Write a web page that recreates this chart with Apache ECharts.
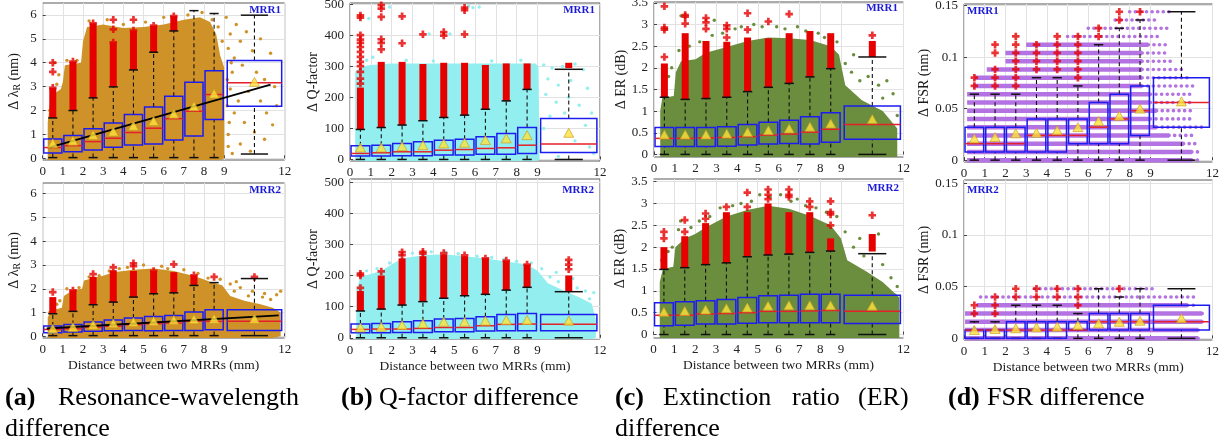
<!DOCTYPE html>
<html>
<head>
<meta charset="utf-8">
<script src="https://cdn.jsdelivr.net/npm/echarts@6/dist/echarts.min.js"></script>
<style>html,body{margin:0;padding:0;background:#fff}#c{width:1231px;height:446px}</style>
</head>
<body>
<div id="c"></div>
<script>
// ---- shared bins and tick labels ----
const binCenters = [0.5, 1.5, 2.5, 3.5, 4.5, 5.5, 6.5, 7.5, 8.5, 10.5];
const binHalfWidths = [0.45, 0.45, 0.45, 0.45, 0.45, 0.45, 0.45, 0.45, 0.45, 1.35];
const xTicks = [0, 1, 2, 3, 4, 5, 6, 7, 8, 9, 12];
const ticksA = [0, 1, 2, 3, 4, 5, 6];
const ticksB = [0, 100, 200, 300, 400, 500];
const ticksC = [0, 0.5, 1, 1.5, 2, 2.5, 3, 3.5];
const ticksD = [0, 0.05, 0.1, 0.15];

// ---- (a) resonance-wavelength difference, nm ----
// box statistics per bin: [lower whisker, Q1, median, Q3, upper whisker]
const statsA1 = [[0.03,0.22,0.45,0.81,1.69],[0.03,0.28,0.53,0.96,2.0],[0.03,0.35,0.70,1.24,2.53],[0.03,0.46,0.84,1.48,2.99],[0.03,0.56,1.08,1.83,3.70],[0.03,0.60,1.26,2.15,4.44],[0.03,0.77,1.66,2.60,5.33],[0.03,0.93,1.97,3.18,6.18],[0.03,1.63,2.67,3.67,6.06],[0.18,2.18,3.16,4.09,5.99]];
const meanA1 = [0.63, 0.74, 0.98, 1.12, 1.36, 1.56, 1.87, 2.18, 2.71, 3.20];
const runsA1 = [[0.5,1.69,2.95],[1.5,2.0,4.05],[2.5,2.53,5.65],[3.5,2.99,4.85],[4.5,3.7,5.35],[5.5,4.44,5.55],[6.5,5.33,5.95]];
const outA1 = [[0.5,2.95],[0.5,3.62],[0.5,4.0],[1.5,4.05],[2.5,5.65],[3.5,4.85],[3.5,5.4],[3.5,5.8],[4.5,5.35],[4.5,5.8],[5.5,5.55],[6.5,5.95]];
const cloudA1 = [[0.25,0],[0.25,1.5],[0.4,2.6],[0.9,2.9],[1.0,3.2],[1.1,3.9],[1.9,4.0],[2.0,4.9],[2.2,5.5],[3.0,5.6],[4.0,5.45],[5.0,5.5],[6.0,5.6],[7.0,5.8],[7.8,5.9],[8.3,5.7],[8.6,5.2],[8.8,4.3],[9.0,3.8],[9.0,0]];
const dotsA1 = [[9.1,5.9],[9.3,5.2],[9.6,5.6],[9.2,4.6],[9.5,4.2],[9.8,4.9],[10.1,5.3],[9.4,3.6],[9.9,3.9],[10.4,4.5],[10.8,5.0],[11.3,4.4],[9.3,2.9],[9.7,2.4],[10.2,2.8],[10.6,3.6],[11.0,3.3],[11.5,3.0],[9.5,1.9],[10.0,1.5],[10.5,1.1],[11.1,1.9],[11.6,2.2],[9.2,1.0],[9.8,0.6],[10.3,0.3],[11.0,0.8],[11.4,1.4],[9.4,0.2],[10.8,2.4],[9.15,3.3],[9.15,2.2],[9.25,1.5],[9.2,0.5],[9.35,4.0],[2.3,5.75],[3.2,5.8],[4.0,5.6],[5.1,5.7],[6.0,5.9],[7.2,6.0],[7.9,6.1],[8.4,5.8],[8.7,5.5],[8.9,4.9],[0.7,3.1],[0.8,3.5],[1.2,4.1],[1.7,4.1],[0.35,2.0],[0.6,4.0]];
const fitA1 = [[0.35,0.46],[11.3,3.08]];

const statsA2 = [[0.03,0.15,0.29,0.43,0.95],[0.03,0.18,0.32,0.50,1.05],[0.03,0.21,0.39,0.60,1.33],[0.03,0.24,0.43,0.69,1.44],[0.03,0.25,0.49,0.77,1.65],[0.03,0.24,0.53,0.83,1.79],[0.03,0.25,0.56,0.88,1.83],[0.03,0.25,0.64,1.02,2.14],[0.03,0.28,0.63,1.12,2.26],[0.03,0.25,0.63,1.12,2.43]];
const meanA2 = [0.32, 0.39, 0.49, 0.55, 0.60, 0.64, 0.69, 0.72, 0.74, 0.74];
const runsA2 = [[0.5,0.95,1.65],[1.5,1.05,1.93],[2.5,1.33,2.5],[3.5,1.44,2.78],[4.5,1.65,2.75],[5.5,1.79,2.75],[6.5,1.83,2.7],[7.5,2.14,2.57]];
const outA2 = [[0.5,1.86],[1.5,1.93],[2.5,2.62],[3.5,2.9],[4.5,2.95],[4.5,3.07],[5.5,2.75],[6.5,3.03],[7.5,2.57],[8.5,2.5],[10.5,2.5]];
const cloudA2 = [[0.25,0],[0.25,0.8],[0.45,1.1],[0.95,1.2],[1.05,1.7],[1.5,1.95],[1.95,2.0],[2.05,2.35],[2.5,2.45],[3.0,2.55],[3.5,2.7],[4.5,2.8],[5.5,2.85],[6.5,2.75],[7.2,2.6],[7.8,2.45],[8.3,2.3],[8.9,2.15],[9.3,1.7],[10.0,1.5],[10.8,1.35],[11.4,1.2],[11.8,1.0],[11.8,0]];
const dotsA2 = [[0.35,1.0],[0.7,1.35],[0.85,1.5],[1.2,2.0],[1.8,2.05],[2.3,2.5],[2.8,2.55],[3.3,2.75],[3.8,2.85],[4.2,2.9],[5.0,3.0],[5.9,2.95],[6.2,2.85],[7.0,2.8],[7.7,2.65],[8.2,2.45],[8.8,2.4],[9.3,2.2],[9.8,2.05],[10.4,1.9],[11.0,1.8],[11.6,1.75],[11.8,1.9],[9.6,2.3],[10.9,1.65],[9.5,1.9],[10.2,1.7],[11.3,1.55]];
const fitA2 = [[0.2,0.33],[11.7,0.88]];

// ---- (b) Q-factor difference ----
const statsB1 = [[0,10.8,19.4,44,96.8],[0,10.8,21.5,46,103],[0,11.8,24.7,51.6,111],[0,11.8,24.7,57,125],[0,14,30,62,135.5],[0,14,32,65.6,143],[0,17,35.5,73,162],[0,17,37.6,84,189],[0,19.4,46,103,226],[0,22.6,49.5,132,291]];
const meanB1 = [38.7, 38.7, 43, 46, 51.6, 53.8, 62.4, 67.7, 78.5, 86];
const runsB1 = [[0.5,96.8,232],[1.5,103,315],[2.5,111,315],[3.5,125,308],[4.5,135.5,312],[5.5,143,312],[6.5,162,305],[7.5,189,310],[8.5,226,310],[10.5,295,312]];
const outB1 = [[0.5,245],[0.5,261],[0.5,283],[0.5,301],[0.5,315],[0.5,331],[0.5,347],[0.5,363],[0.5,376],[0.5,387],[0.5,401],[0.5,458],[0.5,465],[1.5,355],[1.5,376],[1.5,388],[1.5,460],[1.5,487],[1.5,498],[2.5,375],[2.5,462],[3.5,404],[4.5,400],[4.5,411],[5.5,404],[5.5,482],[5.5,490]];
const cloudB1 = [[0.25,0],[0.25,285],[0.6,300],[1.0,305],[2.0,310],[8.9,310],[9.05,300],[9.1,0]];
const dotsB1 = [[9.3,305],[9.7,295],[10.2,300],[10.8,308],[11.2,290],[9.5,260],[10.0,240],[10.6,255],[11.4,230],[9.4,210],[9.9,185],[10.5,200],[11.0,175],[11.6,150],[9.6,140],[10.3,150],[11.3,110],[9.3,100],[10.8,60],[11.5,40],[11.7,20],[10.0,10],[1.1,330],[0.8,320],[3.8,405],[4.8,405],[5.7,495],[5.9,490],[6.2,492],[1.9,492],[0.9,455],[2.7,320],[4.0,318],[6.8,318],[8.2,320]];

const statsB2 = [[0,16,26.8,44,86],[0,16,28,46,92],[0,17,28,51.5,105],[0,17,30,55,116],[0,19,33,60,127],[0,19,33,62,135],[0,21.5,38.6,67.6,139.5],[0,22.5,43,75,153],[0,22.5,44,78,162],[0,22.5,43,75,148]];
const meanB2 = [33, 35.4, 40.8, 46, 51.5, 51.5, 54.7, 57, 57, 54.7];
const runsB2 = [[0.5,86,150],[1.5,92,200],[2.5,105,255],[3.5,116,262],[4.5,127,268],[5.5,135,262],[6.5,139.5,255],[7.5,153,248],[8.5,162,235],[10.5,148,200]];
const outB2 = [[0.5,160],[0.5,200],[0.5,206],[1.5,213],[2.5,265],[2.5,275],[3.5,270],[3.5,276],[4.5,272],[5.5,265],[6.5,255],[7.5,248],[8.5,235],[10.5,220],[10.5,235],[10.5,250]];
const cloudB2 = [[0.3,0],[0.3,150],[0.5,195],[1.0,205],[1.5,215],[2.0,235],[2.5,255],[3.5,265],[4.5,268],[5.5,262],[6.5,255],[7.5,245],[8.5,235],[9.0,215],[9.5,175],[10.3,150],[11.0,130],[11.6,110],[11.8,60],[11.8,0]];
const dotsB2 = [[0.4,205],[0.8,215],[1.3,222],[1.9,240],[2.4,265],[3.0,272],[3.9,276],[4.6,275],[5.2,270],[6.1,262],[6.8,258],[7.4,252],[8.0,246],[8.7,240],[9.2,222],[9.6,195],[10.0,180],[10.4,170],[10.9,160],[11.3,150],[11.7,145],[9.9,210],[10.7,190],[11.5,125]];

// ---- (c) extinction ratio difference, dB ----
const statsC1 = [[0,0.18,0.37,0.62,1.32],[0,0.18,0.37,0.62,1.27],[0,0.18,0.38,0.62,1.29],[0,0.19,0.39,0.64,1.32],[0,0.215,0.41,0.69,1.45],[0,0.24,0.446,0.74,1.55],[0,0.25,0.47,0.79,1.64],[0,0.24,0.515,0.87,1.79],[0,0.28,0.58,0.96,1.98],[0,0.35,0.69,1.12,2.25]];
const meanC1 = [0.46, 0.46, 0.46, 0.48, 0.515, 0.56, 0.60, 0.64, 0.715, 0.815];
const runsC1 = [[0.5,1.32,2.1],[1.5,1.27,2.8],[2.5,1.29,2.62],[3.5,1.32,2.6],[4.5,1.45,2.7],[5.5,1.55,2.68],[6.5,1.64,2.8],[7.5,1.79,2.85],[8.5,1.98,2.8],[10.5,2.25,2.62]];
const outC1 = [[0.5,2.25],[0.5,2.88],[0.5,2.93],[0.5,3.42],[1.5,3.02],[1.5,3.18],[1.5,3.22],[2.5,2.9],[2.5,3.05],[2.5,3.15],[3.5,2.7],[3.5,2.9],[3.5,2.98],[4.5,2.88],[4.5,3.26],[5.5,3.07],[6.5,3.24],[10.5,2.75]];
const cloudC1 = [[0.3,0],[0.3,1.0],[0.4,1.3],[0.95,1.35],[1.05,1.9],[1.3,2.15],[2.0,2.2],[2.5,2.35],[3.5,2.48],[4.5,2.62],[5.5,2.7],[6.5,2.68],[7.5,2.64],[8.5,2.5],[8.9,2.3],[9.2,1.6],[10.0,1.25],[11.0,1.0],[11.7,0.6],[11.7,0]];
const dotsC1 = [[0.5,1.6],[0.7,1.8],[0.85,2.0],[0.6,2.9],[1.2,2.4],[1.7,2.5],[1.3,3.2],[2.2,2.6],[2.8,2.75],[2.9,3.1],[3.3,2.8],[3.9,2.9],[4.2,2.95],[4.8,3.0],[5.2,2.95],[5.9,2.95],[6.3,2.9],[6.9,2.95],[7.3,2.85],[7.9,2.8],[8.2,2.7],[8.8,2.6],[9.2,2.1],[9.5,1.9],[9.9,1.7],[10.3,1.8],[10.8,1.6],[11.2,1.7],[11.5,1.4],[9.6,2.3],[11.0,1.3],[11.7,0.9]];

const statsC2 = [[0,0.20,0.44,0.725,1.49],[0,0.21,0.44,0.75,1.53],[0,0.24,0.47,0.77,1.60],[0,0.24,0.48,0.80,1.64],[0,0.26,0.50,0.85,1.78],[0,0.27,0.53,0.885,1.82],[0,0.27,0.53,0.90,1.84],[0,0.27,0.54,0.92,1.88],[0,0.27,0.55,0.92,1.91],[0,0.25,0.53,0.90,1.85]];
const meanC2 = [0.52, 0.54, 0.57, 0.60, 0.62, 0.66, 0.67, 0.67, 0.67, 0.66];
const runsC2 = [[0.5,1.49,2.0],[1.5,1.53,2.25],[2.5,1.6,2.55],[3.5,1.64,2.8],[4.5,1.78,2.8],[5.5,1.82,3.0],[6.5,1.84,2.8],[7.5,1.88,2.8],[8.5,1.91,2.2],[10.5,1.9,2.3]];
const outC2 = [[0.5,2.2],[0.5,2.35],[1.5,2.35],[1.5,2.62],[2.5,2.65],[2.5,2.77],[3.5,2.92],[4.5,2.92],[4.5,3.25],[5.5,3.1],[5.5,3.2],[5.5,3.32],[6.5,3.15],[6.5,3.2],[6.5,3.32],[7.5,2.92],[7.5,3.05],[8.5,2.5],[8.5,2.75],[8.5,2.8],[8.5,3.05],[10.5,2.73]];
const cloudC2 = [[0.3,0],[0.3,1.2],[0.45,1.5],[0.95,1.55],[1.05,2.0],[1.5,2.2],[2.0,2.3],[2.5,2.45],[3.5,2.7],[4.5,2.85],[5.5,2.95],[6.5,2.88],[7.5,2.72],[8.5,2.5],[9.0,2.2],[9.3,1.7],[10.2,1.45],[11.0,1.2],[11.8,0.85],[11.8,0]];
const dotsC2 = [[0.4,1.7],[0.7,1.9],[0.9,2.0],[1.2,2.4],[1.8,2.45],[1.3,2.6],[2.2,2.6],[2.7,2.7],[3.2,2.9],[3.8,2.95],[4.2,3.0],[4.7,3.05],[5.1,3.2],[5.6,3.15],[6.1,3.2],[6.6,3.05],[6.9,3.1],[7.3,2.95],[7.8,2.9],[8.3,2.8],[8.8,2.7],[9.2,2.35],[9.6,2.0],[10.1,1.8],[10.5,1.95],[11.0,1.6],[11.4,1.3],[11.7,1.1],[9.9,2.2],[10.8,2.3],[11.6,0.9]];

// ---- (d) FSR difference, nm (values come in steps of 0.008 nm) ----
const statsD1 = [[0,0.008,0.016,0.032,0.064],[0,0.008,0.016,0.032,0.064],[0,0.008,0.016,0.032,0.064],[0,0.008,0.024,0.040,0.080],[0,0.008,0.024,0.040,0.080],[0,0.016,0.024,0.040,0.072],[0,0.016,0.032,0.056,0.112],[0,0.016,0.040,0.064,0.128],[0,0.024,0.048,0.072,0.136],[0,0.032,0.056,0.080,0.144]];
const meanD1 = [0.021, 0.0225, 0.026, 0.0265, 0.029, 0.032, 0.038, 0.043, 0.050, 0.057];
const outD1 = [[0.5,0.072],[0.5,0.080],[1.5,0.072],[1.5,0.080],[1.5,0.088],[1.5,0.104],[1.5,0.112],[2.5,0.072],[2.5,0.080],[2.5,0.088],[2.5,0.096],[2.5,0.104],[2.5,0.112],[2.5,0.120],[3.5,0.088],[3.5,0.096],[3.5,0.104],[3.5,0.112],[4.5,0.088],[4.5,0.096],[4.5,0.104],[4.5,0.112],[4.5,0.120],[5.5,0.080],[5.5,0.088],[5.5,0.096],[5.5,0.104],[5.5,0.112],[5.5,0.120],[6.5,0.120],[6.5,0.128],[7.5,0.136],[7.5,0.144],[8.5,0.144]];
// sample rows: [level, dense from, dense to, sparse to]
const rowsD1 = [[0,0.15,11.0,11.5],[0.008,0.15,11.0,11.4],[0.016,0.15,10.6,11.4],[0.024,0.15,9.9,11.0],[0.032,0.15,9.3,11.5],[0.040,0.15,9.0,11.1],[0.048,0.15,9.3,11.1],[0.056,0.15,9.0,11.1],[0.064,0.15,9.0,11.1],[0.072,0.45,8.6,11.1],[0.080,0.5,8.6,10.9],[0.088,1.1,8.6,10.6],[0.096,2.0,8.6,10.2],[0.104,2.0,8.6,9.9],[0.112,3.0,8.9,9.9],[0.120,5.0,5.0,9.5],[0.128,6.0,6.0,9.9],[0.136,7.3,7.3,9.3],[0.144,8.0,8.0,9.9]];

const statsD2 = [[0,0,0.008,0.008,0.016],[0,0,0.008,0.008,0.016],[0,0,0.008,0.016,0.032],[0,0,0.008,0.016,0.032],[0,0,0.008,0.016,0.032],[0,0.008,0.008,0.016,0.024],[0,0.008,0.016,0.024,0.048],[0,0.008,0.016,0.024,0.040],[0,0.008,0.016,0.024,0.048],[0,0.008,0.016,0.032,0.048]];
const meanD2 = [0.008, 0.009, 0.0097, 0.0106, 0.0113, 0.0129, 0.0145, 0.016, 0.017, 0.0194];
const outD2 = [[0.5,0.024],[0.5,0.032],[1.5,0.024],[1.5,0.032],[1.5,0.040],[2.5,0.040],[2.5,0.048],[3.5,0.040],[3.5,0.048],[4.5,0.040],[4.5,0.048],[5.5,0.032],[5.5,0.040],[5.5,0.048],[7.5,0.048]];
const rowsD2 = [[0,0.05,11.3,11.5],[0.008,0.05,11.3,11.5],[0.016,0.05,11.5,11.6],[0.024,0.05,11.5,11.6],[0.032,0.6,10.8,11.3],[0.040,0.8,0.8,11.2],[0.048,3.4,3.4,9.1]];

// ---- styling ----
const FONT = "'Liberation Serif','Times New Roman',serif";
const colA = '#cf9229', colB = '#93efef', colC = '#6a8e3e', colD = '#b473e2';
const BOX_BLUE = '#1c1cf0', MED_RED = '#e4202a', OUT_RED = '#e60000';
const PLUS = 'path://M3.2,0H6.8V3.2H10V6.8H6.8V10H3.2V6.8H0V3.2H3.2Z';

const nameA = '{t|Δ λ}{s|R}{t| (nm)}';
const nameRich = { t: { fontFamily: FONT, fontSize: 14, color: '#1a1a1a' }, s: { fontFamily: FONT, fontSize: 10, color: '#1a1a1a', padding: [7, 0, 0, 0] } };

const panels = [
  { grid: { left: 42.7, top: 3, width: 242, height: 157 }, y: [-0.07, 6.5], ticks: ticksA, name: nameA, gap: 20, color: colA, cloud: cloudA1, dots: dotsA1, stats: statsA1, mean: meanA1, runs: runsA1, out: outA1, fit: fitA1, tag: 'MRR1', tagPos: [281, 10, 'right'] },
  { grid: { left: 42.7, top: 183, width: 242, height: 155 }, y: [-0.07, 6.45], ticks: ticksA, name: nameA, gap: 20, color: colA, cloud: cloudA2, dots: dotsA2, stats: statsA2, mean: meanA2, runs: runsA2, out: outA2, fit: fitA2, tag: 'MRR2', tagPos: [281, 190, 'right'], xName: true },
  { grid: { left: 350, top: 3, width: 250, height: 158 }, y: [-5, 505], ticks: ticksB, name: 'Δ Q-factor', gap: 28, color: colB, cloud: cloudB1, dots: dotsB1, stats: statsB1, mean: meanB1, runs: runsB1, out: outB1, tag: 'MRR1', tagPos: [595, 10, 'right'] },
  { grid: { left: 350, top: 179, width: 250, height: 160 }, y: [-4, 510], ticks: ticksB, name: 'Δ Q-factor', gap: 28, color: colB, cloud: cloudB2, dots: dotsB2, stats: statsB2, mean: meanB2, runs: runsB2, out: outB2, tag: 'MRR2', tagPos: [594, 190, 'right'], xName: true },
  { grid: { left: 654, top: 2, width: 249.5, height: 155 }, y: [-0.06, 3.52], ticks: ticksC, name: 'Δ ER (dB)', gap: 22, color: colC, cloud: cloudC1, dots: dotsC1, stats: statsC1, mean: meanC1, runs: runsC1, out: outC1, tag: 'MRR1', tagPos: [898, 8, 'right'] },
  { grid: { left: 653.5, top: 179, width: 250, height: 159 }, y: [-0.08, 3.56], ticks: ticksC, name: 'Δ ER (dB)', gap: 22, color: colC, cloud: cloudC2, dots: dotsC2, stats: statsC2, mean: meanC2, runs: runsC2, out: outC2, tag: 'MRR2', tagPos: [899, 188, 'right'], xName: true },
  { grid: { left: 964, top: 4, width: 248.5, height: 158 }, y: [-0.0018, 0.1515], ticks: ticksD, name: 'Δ FSR (nm)', gap: 27, color: colD, rows: rowsD1, stats: statsD1, mean: meanD1, out: outD1, tag: 'MRR1', tagPos: [967, 11, 'left'] },
  { grid: { left: 964, top: 180, width: 248.5, height: 160 }, y: [-0.0016, 0.1532], ticks: ticksD, name: 'Δ FSR (nm)', gap: 27, color: colD, rows: rowsD2, stats: statsD2, mean: meanD2, out: outD2, tag: 'MRR2', tagPos: [967, 190, 'left'], xName: true }
];

const grids = [], xAxes = [], yAxes = [], series = [], graphics = [];

panels.forEach((p, i) => {
  grids.push(Object.assign({ show: true, borderColor: '#595959', borderWidth: 1, backgroundColor: 'transparent', containLabel: false, outerBoundsMode: 'none' }, p.grid));
  xAxes.push({
    gridIndex: i, type: 'value', min: 0, max: 12,
    axisLine: { show: false },
    axisTick: { show: true, inside: true, length: 3, customValues: xTicks, lineStyle: { color: '#444' } },
    axisLabel: { customValues: xTicks, fontFamily: FONT, fontSize: 13, color: '#222', margin: 5 },
    splitLine: { show: true, lineStyle: { color: '#e2e2e2', width: 1 } },
    name: p.xName ? 'Distance between two MRRs (mm)' : '', nameLocation: 'middle', nameGap: 20,
    nameTextStyle: { fontFamily: FONT, fontSize: 13.5, color: '#1a1a1a' }
  });
  yAxes.push({
    gridIndex: i, type: 'value', min: p.y[0], max: p.y[1],
    axisLine: { show: false },
    axisTick: { show: true, inside: true, length: 3, customValues: p.ticks, lineStyle: { color: '#444' } },
    axisLabel: { customValues: p.ticks, fontFamily: FONT, fontSize: 13, color: '#222', margin: 6 },
    splitLine: { show: true, lineStyle: { color: '#e2e2e2', width: 1 } },
    name: p.name, nameLocation: 'middle', nameGap: p.gap, nameRotate: 90,
    nameTextStyle: { fontFamily: FONT, fontSize: 14, color: '#1a1a1a', rich: nameRich }
  });
  const ax = { xAxisIndex: i, yAxisIndex: i };

  // dense sample cloud
  if (p.cloud) {
    series.push(Object.assign({
      type: 'line', data: p.cloud, symbol: 'none', z: 1, silent: true,
      lineStyle: { width: 0, color: p.color }, areaStyle: { color: p.color, opacity: 1, origin: 'start' }
    }, ax));
  }
  // quantised sample rows
  if (p.rows) {
    const col = p.color;
    series.push(Object.assign({
      type: 'custom', z: 2, silent: true,
      data: p.rows.map(r => [r[1], r[0], r[2], r[3]]),
      encode: { x: 0, y: 1 },
      renderItem: (params, api) => {
        const lv = api.value(1), s0 = api.value(0), s1 = api.value(2), d1 = api.value(3);
        const ch = [];
        if (s1 > s0) {
          const a = api.coord([s0, lv]), b = api.coord([s1, lv]);
          ch.push({ type: 'line', shape: { x1: a[0], y1: a[1], x2: b[0], y2: b[1] }, style: { stroke: col, lineWidth: 4.5 } });
        }
        if (d1 > s1) {
          const a = api.coord([s1, lv]), b = api.coord([d1, lv]);
          ch.push({ type: 'line', shape: { x1: a[0], y1: a[1], x2: b[0], y2: b[1] }, style: { stroke: col, lineWidth: 3.6, lineDash: [0.1, 5.5], lineCap: 'round' } });
        }
        return { type: 'group', children: ch };
      }
    }, ax));
  }
  // sparse samples
  if (p.dots) {
    series.push(Object.assign({ type: 'scatter', data: p.dots, symbolSize: 3.4, z: 2, silent: true, itemStyle: { color: p.color, opacity: 1 } }, ax));
  }
  // dense outlier columns
  if (p.runs) {
    series.push(Object.assign({
      type: 'custom', z: 3, silent: true, data: p.runs, encode: { x: 0, y: 1 },
      renderItem: (params, api) => {
        const a = api.coord([api.value(0), api.value(1)]), b = api.coord([api.value(0), api.value(2)]);
        return { type: 'rect', shape: { x: a[0] - 3.5, y: b[1], width: 7, height: a[1] - b[1] }, style: { fill: OUT_RED } };
      }
    }, ax));
  }
  // individual outliers
  series.push(Object.assign({ type: 'scatter', data: p.out, symbol: PLUS, symbolSize: 7.5, z: 4, silent: true, itemStyle: { color: OUT_RED } }, ax));

  // box plots
  const stats = p.stats;
  series.push(Object.assign({
    type: 'custom', z: 5, silent: true,
    data: binCenters.map((c, k) => [c, stats[k][2], binHalfWidths[k], stats[k][0], stats[k][1], stats[k][3], stats[k][4]]),
    encode: { x: 0, y: 1 },
    renderItem: (params, api) => {
      const x = api.value(0), med = api.value(1), hw = api.value(2);
      const lo = api.value(3), q1 = api.value(4), q3 = api.value(5), hi = api.value(6);
      const P = (a, b) => api.coord([a, b]);
      const seg = (a, b, style) => ({ type: 'line', shape: { x1: a[0], y1: a[1], x2: b[0], y2: b[1] }, style });
      const dash = { stroke: '#111', lineWidth: 1.1, lineDash: [4, 3] };
      const cap = { stroke: '#111', lineWidth: 1.5 };
      const tl = P(x - hw, q3), br = P(x + hw, q1);
      return {
        type: 'group', children: [
          seg(P(x, q3), P(x, hi), dash),
          seg(P(x, lo), P(x, q1), dash),
          seg(P(x - hw / 2, hi), P(x + hw / 2, hi), cap),
          seg(P(x - hw / 2, lo), P(x + hw / 2, lo), cap),
          { type: 'rect', shape: { x: tl[0], y: tl[1], width: br[0] - tl[0], height: br[1] - tl[1] }, style: { fill: 'none', stroke: BOX_BLUE, lineWidth: 1.5 } },
          seg(P(x - hw, med), P(x + hw, med), { stroke: MED_RED, lineWidth: 1.5 })
        ]
      };
    }
  }, ax));

  // linear trend
  if (p.fit) {
    series.push(Object.assign({ type: 'line', data: p.fit, symbol: 'none', z: 6, silent: true, lineStyle: { color: '#000', width: 1.8 } }, ax));
  }
  // means
  series.push(Object.assign({
    type: 'scatter', data: binCenters.map((c, k) => [c, p.mean[k]]), symbol: 'triangle', symbolSize: [10, 9], z: 7, silent: true,
    itemStyle: { color: '#fde43a', borderColor: '#c79a22', borderWidth: 0.8 }
  }, ax));

  graphics.push({
    type: 'text', x: p.tagPos[0], y: p.tagPos[1], z: 100,
    style: { text: p.tag, fontFamily: FONT, fontWeight: 'bold', fontSize: 11, fill: '#1a1ad8', align: p.tagPos[2], verticalAlign: 'middle' }
  });
});

// sub-figure captions
const cap = (x, y, text, bold) => ({ type: 'text', x, y, style: { text, fontFamily: FONT, fontSize: 26, fontWeight: bold ? 'bold' : 'normal', fill: '#000', align: 'left', verticalAlign: 'middle' } });
const L1 = 398, L2 = 429;
graphics.push(
  cap(5, L1, '(a)', true), cap(58, L1, 'Resonance-wavelength'), cap(5, L2, 'difference'),
  cap(341, L1, '(b)', true), cap(379, L1, 'Q-factor difference'),
  cap(615, L1, '(c)', true), cap(663, L1, 'Extinction'), cap(792, L1, 'ratio'), cap(858, L1, '(ER)'), cap(615, L2, 'difference'),
  cap(948, L1, '(d)', true), cap(987, L1, 'FSR difference')
);

const chart = echarts.init(document.getElementById('c'), null, { renderer: 'canvas' });
chart.setOption({
  animation: false,
  backgroundColor: '#fff',
  grid: grids, xAxis: xAxes, yAxis: yAxes, series, graphic: graphics
});
</script>
</body>
</html>
